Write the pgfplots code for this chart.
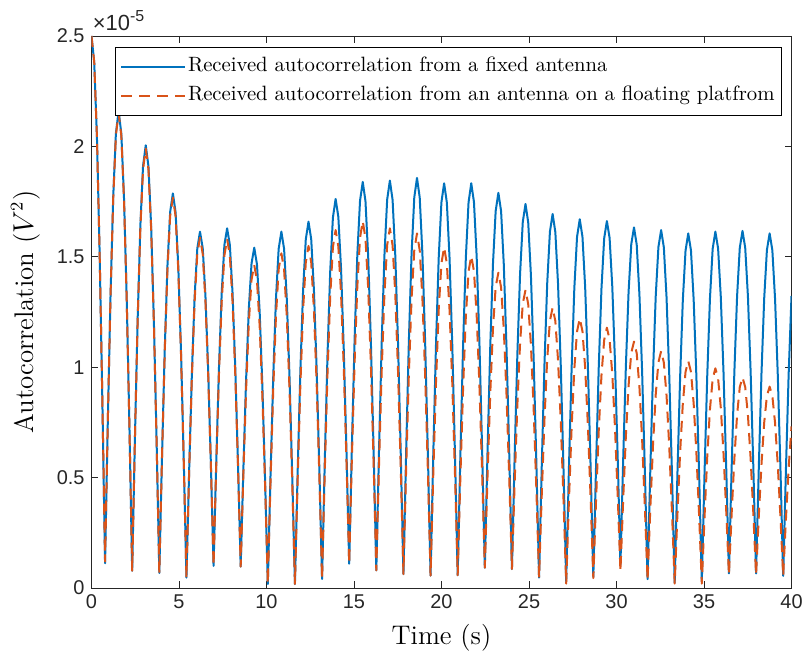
\documentclass[border=0pt]{standalone}
\usepackage{fontspec}
\setsansfont{Liberation Sans}
\usepackage{pgfplots}
\usepackage{pgfplotstable}
\pgfplotsset{compat=1.18}
\definecolor{mblue}{rgb}{0,0.447,0.741}
\definecolor{morange}{rgb}{0.85,0.325,0.098}
\definecolor{axgray}{rgb}{0.15,0.15,0.15}
% t in s, b = fixed antenna, o = floating platform (units of 1e-5 V^2)
\pgfplotstableread{
t b o
0 2.5 2.5
0.155 2.383 2.383
0.31 2.044 2.045
0.465 1.516 1.519
0.62 0.850 0.855
0.775 0.112 0.120
0.93 0.745 0.747
1.085 1.316 1.314
1.24 1.769 1.762
1.395 2.060 2.051
1.55 2.160 2.150
1.705 2.058 2.048
1.86 1.762 1.754
2.015 1.302 1.296
2.17 0.721 0.718
2.325 0.078 0.078
2.48 0.673 0.669
2.635 1.211 1.202
2.79 1.637 1.625
2.945 1.911 1.896
3.1 2.005 1.990
3.255 1.910 1.896
3.41 1.635 1.623
3.565 1.207 1.198
3.72 0.667 0.662
3.875 0.068 0.068
4.03 0.599 0.593
4.185 1.079 1.068
4.34 1.459 1.443
4.495 1.703 1.685
4.65 1.787 1.768
4.805 1.702 1.684
4.96 1.455 1.439
5.115 1.070 1.059
5.27 0.585 0.579
5.425 0.047 0.047
5.58 0.531 0.523
5.735 0.968 0.953
5.89 1.315 1.293
6.045 1.537 1.512
6.2 1.614 1.587
6.355 1.540 1.514
6.51 1.325 1.303
6.665 0.990 0.974
6.82 0.568 0.559
6.975 0.100 0.100
7.13 0.572 0.557
7.285 0.999 0.970
7.44 1.337 1.297
7.595 1.554 1.507
7.75 1.629 1.580
7.905 1.554 1.507
8.06 1.336 1.297
8.215 0.998 0.969
8.37 0.570 0.555
8.525 0.097 0.097
8.68 0.543 0.519
8.835 0.946 0.900
8.99 1.265 1.202
9.145 1.470 1.396
9.3 1.541 1.463
9.455 1.466 1.392
9.61 1.250 1.187
9.765 0.914 0.868
9.92 0.489 0.465
10.075 0.018 0.018
10.23 0.511 0.481
10.385 0.956 0.899
10.54 1.309 1.230
10.695 1.536 1.443
10.85 1.614 1.516
11.005 1.536 1.443
11.16 1.309 1.230
11.315 0.956 0.899
11.47 0.511 0.481
11.625 0.018 0.018
11.78 0.525 0.491
11.935 0.983 0.918
12.09 1.346 1.257
12.245 1.579 1.474
12.4 1.659 1.549
12.555 1.580 1.475
12.71 1.350 1.261
12.865 0.992 0.928
13.02 0.541 0.507
13.175 0.041 0.041
13.33 0.573 0.529
13.485 1.053 0.970
13.64 1.433 1.319
13.795 1.678 1.544
13.95 1.762 1.621
14.105 1.681 1.547
14.26 1.446 1.332
14.415 1.081 0.998
14.57 0.620 0.577
14.725 0.110 0.110
14.88 0.644 0.590
15.035 1.127 1.023
15.19 1.509 1.366
15.345 1.754 1.586
15.5 1.839 1.662
15.655 1.753 1.584
15.81 1.503 1.360
15.965 1.114 1.010
16.12 0.624 0.569
16.275 0.080 0.080
16.43 0.625 0.559
16.585 1.118 0.991
16.74 1.508 1.333
16.895 1.759 1.553
17.05 1.845 1.629
17.205 1.758 1.552
17.36 1.505 1.330
17.515 1.111 0.984
17.67 0.614 0.547
17.825 0.063 0.063
17.98 0.617 0.540
18.135 1.118 0.970
18.29 1.514 1.311
18.445 1.769 1.530
18.6 1.857 1.606
18.755 1.769 1.530
18.91 1.513 1.310
19.065 1.115 0.967
19.22 0.613 0.535
19.375 0.056 0.056
19.53 0.605 0.515
19.685 1.101 0.930
19.84 1.494 1.259
19.995 1.746 1.470
20.15 1.833 1.543
20.305 1.746 1.470
20.46 1.494 1.259
20.615 1.102 0.931
20.77 0.606 0.517
20.925 0.058 0.058
21.08 0.606 0.505
21.235 1.102 0.908
21.39 1.494 1.228
21.545 1.746 1.433
21.7 1.833 1.504
21.855 1.748 1.435
22.01 1.500 1.234
22.165 1.116 0.922
22.32 0.630 0.528
22.475 0.092 0.092
22.63 0.617 0.505
22.785 1.090 0.878
22.94 1.466 1.173
23.095 1.707 1.363
23.25 1.790 1.428
23.405 1.707 1.362
23.56 1.465 1.172
23.715 1.088 0.875
23.87 0.613 0.501
24.025 0.086 0.086
24.18 0.597 0.477
24.335 1.058 0.829
24.49 1.423 1.109
24.645 1.658 1.288
24.8 1.739 1.350
24.955 1.656 1.286
25.11 1.416 1.101
25.265 1.042 0.813
25.42 0.570 0.450
25.575 0.047 0.047
25.73 0.556 0.425
25.885 1.015 0.766
26.04 1.379 1.036
26.195 1.613 1.210
26.35 1.694 1.270
26.505 1.612 1.209
26.66 1.376 1.031
26.815 1.008 0.755
26.97 0.544 0.406
27.125 0.030 0.020
27.28 0.537 0.391
27.435 0.994 0.726
27.59 1.357 0.992
27.745 1.590 1.162
27.9 1.670 1.221
28.055 1.591 1.163
28.21 1.361 0.996
28.365 1.003 0.736
28.52 0.551 0.408
28.675 0.050 0.045
28.83 0.548 0.395
28.985 0.998 0.712
29.14 1.354 0.962
29.295 1.583 1.123
29.45 1.662 1.179
29.605 1.586 1.125
29.76 1.364 0.968
29.915 1.020 0.724
30.07 0.585 0.416
30.225 0.104 0.075
30.38 0.576 0.397
30.535 1.003 0.687
30.69 1.341 0.917
30.845 1.558 1.065
31.0 1.633 1.116
31.155 1.555 1.063
31.31 1.329 0.910
31.465 0.977 0.671
31.62 0.532 0.369
31.775 0.040 0.035
31.93 0.529 0.356
32.085 0.970 0.645
32.24 1.319 0.875
32.395 1.544 1.022
32.55 1.621 1.073
32.705 1.543 1.021
32.86 1.316 0.872
33.015 0.963 0.639
33.17 0.517 0.345
33.325 0.024 0.020
33.48 0.513 0.331
33.635 0.954 0.613
33.79 1.304 0.835
33.945 1.528 0.979
34.1 1.606 1.028
34.255 1.529 0.979
34.41 1.305 0.835
34.565 0.957 0.613
34.72 0.517 0.331
34.875 0.030 0.020
35.03 0.519 0.321
35.185 0.961 0.593
35.34 1.311 0.809
35.495 1.536 0.947
35.65 1.614 0.995
35.805 1.538 0.949
35.96 1.318 0.816
36.115 0.976 0.610
36.27 0.544 0.349
36.425 0.066 0.060
36.58 0.545 0.336
36.735 0.978 0.586
36.89 1.321 0.783
37.045 1.541 0.910
37.2 1.617 0.954
37.355 1.541 0.910
37.51 1.321 0.783
37.665 0.978 0.586
37.82 0.545 0.336
37.975 0.066 0.060
38.13 0.542 0.323
38.285 0.972 0.561
38.44 1.312 0.749
38.595 1.531 0.870
38.75 1.606 0.912
38.905 1.530 0.870
39.06 1.310 0.748
39.215 0.967 0.559
39.37 0.534 0.320
39.525 0.055 0.055
39.68 0.532 0.310
39.835 0.963 0.540
40 1.323 0.732
}\datatable
\begin{document}
\begin{tikzpicture}
\begin{axis}[
  name=ax,
  scale only axis, width=350bp, height=276bp,
  xmin=0, xmax=40, ymin=0, ymax=2.5,
  xtick={0,5,...,40}, ytick={0,0.5,1,1.5,2,2.5},
  tick pos=both, tick align=inside, major tick length=3.5bp,
  axis line style={axgray, line width=0.4bp},
  every tick/.style={axgray, line width=0.4bp},
  /pgf/number format/assume math mode=true,
  tick label style={font=\sffamily\fontsize{10}{12}\selectfont, text=axgray},
  xlabel={Time (s)}, ylabel={Autocorrelation ($V^2$)},
  label style={font=\fontsize{13.5}{16}\selectfont},
  xlabel style={at={(axis description cs:0.5,-0.0906)}, anchor=center},
  ylabel style={at={(axis description cs:-0.0943,0.5)}, anchor=center},
  legend style={at={(0.9864,0.980)}, anchor=north east, draw=black, line width=0.4bp, fill=white,
     font=\fontsize{10.4}{12}\selectfont, inner xsep=2.5bp, inner ysep=4bp, row sep=3bp,
     nodes={inner sep=1bp, text height=7.2bp, text depth=2.3bp},
     /tikz/every even column/.append style={column sep=2.5bp}},
  legend cell align=left,
  legend image code/.code={\draw[#1] (0bp,0bp) -- (32bp,0bp);},
]
\addplot[mblue, line width=1bp, line join=round] table[x=t,y=b]{\datatable};
\addlegendentry{Received autocorrelation from a fixed antenna}
\addplot[morange, line width=1bp, line join=round, dash pattern=on 5.5bp off 3.5bp] table[x=t,y=o]{\datatable};
\addlegendentry{Received autocorrelation from an antenna on a floating platfrom}
\end{axis}
\node[anchor=south west, font=\sffamily\fontsize{11}{13}\selectfont, text=axgray, inner sep=0pt] at ([xshift=0.5bp,yshift=2.5bp]ax.north west) {×10\raisebox{0.8ex}{\fontsize{8}{9}\selectfont -5}};
\pgfresetboundingbox
\path ([xshift=-45.75bp,yshift=-36bp]ax.south west) rectangle ([xshift=6.75bp,yshift=18bp]ax.north east);
\end{tikzpicture}
\end{document}
